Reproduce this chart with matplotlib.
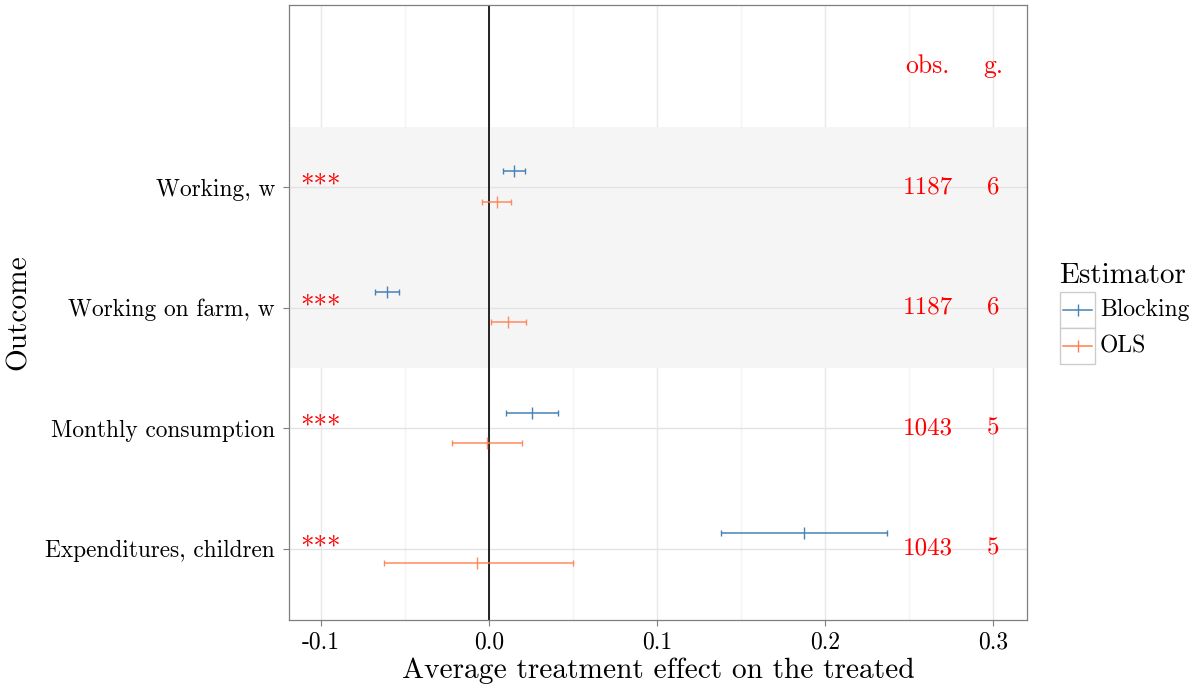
import matplotlib
matplotlib.use("Agg")
import matplotlib.pyplot as plt
from matplotlib.lines import Line2D
from matplotlib.patches import Rectangle
import numpy as np

plt.rcParams['font.family'] = ['cmr10', 'DejaVu Serif']
plt.rcParams['axes.unicode_minus'] = False
plt.rcParams['axes.formatter.use_mathtext'] = True

# outcomes, top to bottom
outcomes = ["Working, w", "Working on farm, w", "Monthly consumption",
            "Expenditures, children"]
blocking_est = [0.0149, -0.0609, 0.0258, 0.1877]
blocking_lo = [0.0085, -0.0679, 0.0101, 0.1379]
blocking_hi = [0.0216, -0.0538, 0.0413, 0.2371]
ols_est = [0.0048, 0.0115, -0.0012, -0.0073]
ols_lo = [-0.0040, 0.0012, -0.0220, -0.0625]
ols_hi = [0.0133, 0.0220, 0.0194, 0.0502]
stars = ["***", "***", "***", "***"]
n_obs = ["1187", "1187", "1043", "1043"]
n_groups = ["6", "6", "5", "5"]
shaded = [True, True, False, False]
x_ticks = [-0.1, 0.0, 0.1, 0.2, 0.3]
x_ticklabels = ["-0.1", "0.0", "0.1", "0.2", "0.3"]

BLUE = '#4682B4'
ORANGE = '#FF7F50'
RED = '#FF0000'

fig = plt.figure(figsize=(11.96, 6.9), dpi=100)
ax = fig.add_axes([289 / 1196, 70 / 690, 738 / 1196, 615 / 690])

n = len(outcomes)
ypos = np.arange(n, 0, -1)  # top outcome highest
ax.set_xlim(-0.119, 0.3202)
ax.set_ylim(0.41, 5.51)

# grid
for xm in [-0.05, 0.05, 0.15, 0.25]:
    ax.axvline(xm, color='#F4F4F4', lw=1, zorder=0)
for xt in x_ticks:
    ax.axvline(xt, color='#E8E8E8', lw=1, zorder=0)

# shaded band
for y, s in zip(ypos, shaded):
    if s:
        ax.axhspan(y - 0.5, y + 0.5, color='#F5F5F5', lw=0, zorder=0.5)
for y in ypos:
    ax.axhline(y, color='#E3E3E3', lw=1, zorder=0.6)

ax.axvline(0, color='black', lw=1.2, zorder=2)

est = np.array(blocking_est)
ax.errorbar(est, ypos + 0.13,
            xerr=[est - np.array(blocking_lo), np.array(blocking_hi) - est],
            fmt='|', color=BLUE, ms=8, mew=1, elinewidth=1.1, capsize=2.2,
            capthick=1.1, zorder=3)
est = np.array(ols_est)
ax.errorbar(est, ypos - 0.12,
            xerr=[est - np.array(ols_lo), np.array(ols_hi) - est],
            fmt='|', color=ORANGE, ms=8, mew=1, elinewidth=1.1, capsize=2.2,
            capthick=1.1, alpha=0.9, zorder=3)

for y, st, no, ng in zip(ypos, stars, n_obs, n_groups):
    ax.text(-0.1, y + 0.01, st, color=RED, fontsize=19.5, ha='center',
            va='center', zorder=4)
    ax.text(0.261, y, no, color=RED, fontsize=18, ha='center', va='center',
            zorder=4)
    ax.text(0.3, y, ng, color=RED, fontsize=18, ha='center', va='center',
            zorder=4)
ax.text(0.261, n + 1, "obs.", color=RED, fontsize=18.5, ha='center',
        va='center')
ax.text(0.3, n + 1, "g.", color=RED, fontsize=18.5, ha='center', va='center')

ax.set_yticks(ypos)
ax.set_yticklabels(outcomes, fontsize=16.8)
ax.set_xticks(x_ticks)
ax.set_xticklabels(x_ticklabels, fontsize=17)
ax.tick_params(length=4, color='#7F7F7F', width=0.8)
ax.tick_params(axis='y', pad=6)
ax.tick_params(axis='x', pad=4)
for sp in ax.spines.values():
    sp.set_color('#7F7F7F')
    sp.set_linewidth(0.9)

ax.set_xlabel("Average treatment effect on the treated", fontsize=21.2,
              labelpad=3)
ax.set_ylabel("Outcome", fontsize=21.2)
ax.yaxis.set_label_coords(-0.348, 0.5)

# legend drawn by hand (ggplot style key boxes)
W, H = 1196, 690
fig.text(1059 / W, 1 - 283 / H, "Estimator", fontsize=21, ha='left',
         va='baseline')
for i, (lab, col) in enumerate([("Blocking", BLUE), ("OLS", ORANGE)]):
    top = 292 + i * 36
    fig.add_artist(Rectangle((1060 / W, 1 - (top + 36) / H), 35 / W, 36 / H,
                             transform=fig.transFigure, facecolor='white',
                             edgecolor='#CCCCCC', lw=1))
    yc = 1 - (top + 18) / H
    fig.add_artist(Line2D([1063 / W, 1092 / W], [yc, yc], color=col, lw=1.1,
                          transform=fig.transFigure))
    fig.add_artist(Line2D([1077.5 / W], [yc], color=col, marker='|', ms=8,
                          mew=1, transform=fig.transFigure))
    fig.text(1100 / W, yc, lab, fontsize=17, ha='left', va='center')

fig.savefig("out.png", dpi=100)
